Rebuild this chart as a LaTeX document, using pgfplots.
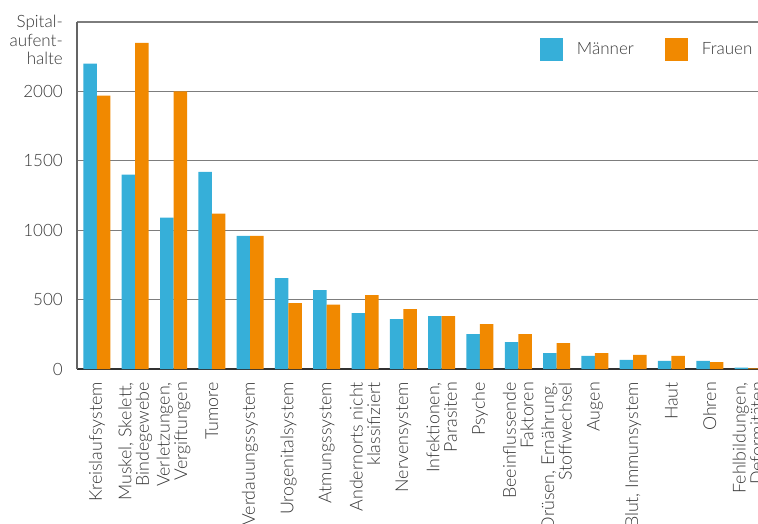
\documentclass[border=0pt]{standalone}
\usepackage{pgfplots}
\pgfplotsset{compat=1.18}
\usepackage{fontspec}
\setmainfont{Lato Light}
\definecolor{mblue}{RGB}{54,175,217}
\definecolor{forange}{RGB}{241,137,0}
\definecolor{txt}{RGB}{55,55,55}
\definecolor{gridc}{RGB}{125,125,125}
\begin{document}
\begin{tikzpicture}[font=\fontsize{17}{18}\selectfont]
\path[use as bounding box] (-77pt,-154pt) rectangle (681pt,369pt);
\clip (-77pt,-154pt) rectangle (681pt,369pt);
\begin{axis}[
  at={(0pt,0pt)}, anchor=south west,
  scale only axis, width=691pt, height=347pt,
  ybar=0pt, bar width=13.5pt,
  xmin=-0.52, xmax=17.52, ymin=0, ymax=2500,
  xtick=data,
  xticklabels={Kreislaufsystem,{Muskel, Skelett,\\Bindegewebe},{Verletzungen,\\Vergiftungen},Tumore,Verdauungssystem,Urogenitalsystem,Atmungssystem,{Andernorts nicht\\klassifiziert},Nervensystem,{Infektionen,\\Parasiten},Psyche,{Beeinflussende\\Faktoren},{Drüsen, Ernährung,\\Stoffwechsel},Augen,{Blut, Immunsystem},Haut,Ohren,{Fehlbildungen,\\Deformitäten}},
  ytick={0,500,1000,1500,2000,2500},
  yticklabels={0,500,1000,1500,2000,{}},
  /pgf/number format/assume math mode=true,
  major tick length=0pt,
  ymajorgrids, grid style={gridc, line width=1.2pt},
  axis x line*=bottom, axis y line*=left,
  x axis line style={-, line width=2pt, color=txt!90!black},
  y axis line style={-, line width=1.5pt, color=gridc!80!black},
  xticklabel style={rotate=90, anchor=east, align=right, inner sep=0pt, text=txt, font=\fontsize{17.8}{17.5}\selectfont},
  xticklabel shift=13pt,
  yticklabel style={inner sep=0pt, text=txt, anchor=east},
  yticklabel shift=14pt,
  ylabel={Spital-\\aufent-\\halte},
  ylabel style={rotate=-90, at={(rel axis cs:0,1)}, anchor=north east, align=right, inner sep=0pt, xshift=-14pt, yshift=7pt, text=txt, font=\fontsize{17}{18.5}\selectfont},
  legend columns=2,
  legend image code/.code={\fill[#1] (0pt,-11.5pt) rectangle (23pt,11.5pt);},
  legend style={draw=none, fill=none, inner sep=0pt, outer sep=0pt,
    at={(0.670,0.954)}, anchor=north west,
    nodes={inner sep=0pt, text=txt},
    /tikz/every odd column/.append style={column sep=14pt},
    /tikz/every even column/.append style={column sep=31pt}},
]
\addplot[fill=mblue, draw=none] coordinates {(0,2200)(1,1400)(2,1090)(3,1420)(4,960)(5,655)(6,568)(7,403)(8,360)(9,381)(10,252)(11,194)(12,115)(13,94)(14,65)(15,58)(16,58)(17,10)};
\addplot[fill=forange, draw=none] coordinates {(0,1970)(1,2350)(2,2000)(3,1120)(4,960)(5,475)(6,463)(7,532)(8,432)(9,381)(10,324)(11,252)(12,187)(13,115)(14,101)(15,94)(16,50)(17,5)};
\legend{Männer,Frauen}
\end{axis}
\end{tikzpicture}
\end{document}
